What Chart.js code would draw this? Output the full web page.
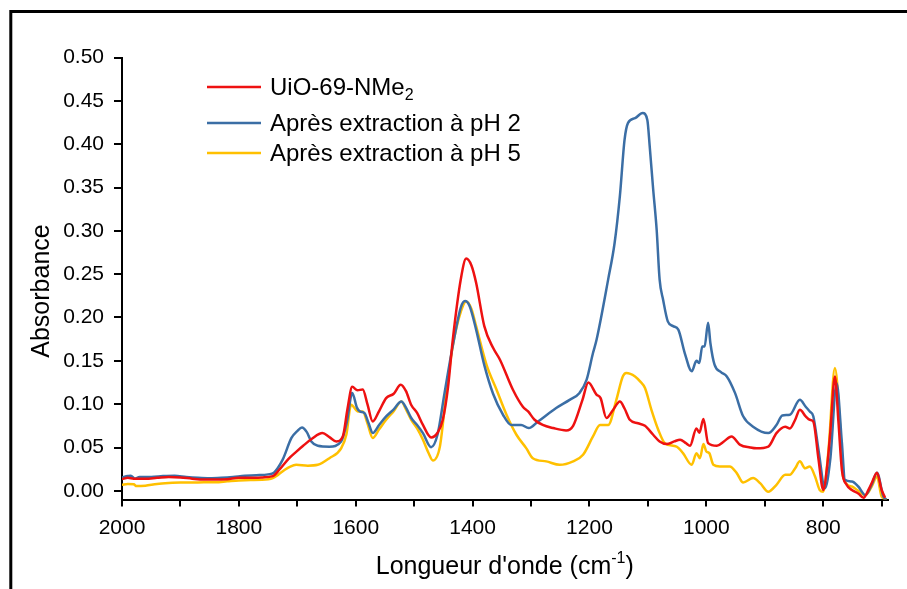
<!DOCTYPE html>
<html>
<head>
<meta charset="utf-8">
<script src="https://cdn.jsdelivr.net/npm/chart.js@4.4.0/dist/chart.umd.min.js"></script>
<style>
  html, body { margin: 0; padding: 0; background: #fff; }
  #wrap { width: 907px; height: 589px; }
</style>
</head>
<body>
<div id="wrap"><canvas id="mycanvas" width="907" height="589"></canvas></div>
<script>
// IR spectra: wavenumber (cm-1) and absorbance for each sample
var seriesNames = ['UiO-69-NMe', 'Après extraction à pH 2', 'Après extraction à pH 5'];
var seriesSubs = ['2', '', ''];
var seriesColors = ['#ee1111', '#3b6ea5', '#ffc000'];

var redWn = [2000,1990,1980,1960,1940,1920,1900,1880,1860,1840,1820,1800,1780,1760,1742,1730,1715,1702,1690,1675,1657,1645,1633,1622,1614,1606,1597,1588,1580,1571,1560,1548,1535,1523,1514,1505,1495,1485,1471,1460,1451,1442,1434,1420,1411,1402,1394,1380,1365,1353,1331,1314,1305,1294,1280,1262,1240,1228,1212,1202,1188,1181,1171,1160,1148,1140,1131,1117,1105,1091,1080,1068,1055,1045,1035,1028,1017,1012,1005,997,982,970,957,942,925,914,894,880,865,857,848,840,830,823,817,808,800,793,788,780,774,768,760,751,740,731,722,717,708,700,694];
var redAbs = [0.0135,0.015,0.014,0.014,0.015,0.016,0.0155,0.014,0.013,0.013,0.0135,0.015,0.015,0.0155,0.017,0.025,0.037,0.045,0.052,0.060,0.0666,0.062,0.057,0.063,0.095,0.120,0.116,0.117,0.100,0.080,0.092,0.107,0.112,0.1224,0.115,0.099,0.090,0.076,0.0616,0.067,0.082,0.120,0.174,0.245,0.268,0.260,0.240,0.190,0.165,0.151,0.1166,0.097,0.0916,0.082,0.076,0.0724,0.0697,0.075,0.105,0.125,0.111,0.107,0.084,0.093,0.103,0.095,0.082,0.078,0.075,0.0647,0.057,0.054,0.057,0.059,0.055,0.052,0.072,0.067,0.0828,0.055,0.052,0.057,0.0627,0.053,0.050,0.049,0.051,0.0666,0.074,0.072,0.082,0.0935,0.086,0.082,0.080,0.036,0.001,0.030,0.067,0.132,0.080,0.024,0.007,0.001,-0.003,-0.008,0.002,0.009,0.021,0.001,-0.008];

var blueWn = [2000,1990,1985,1978,1970,1950,1930,1910,1890,1870,1850,1830,1810,1790,1770,1750,1740,1725,1710,1700,1692,1684,1676,1665,1645,1625,1615,1606,1598,1593,1585,1578,1571,1560,1548,1535,1522,1514,1505,1495,1485,1471,1460,1448,1434,1420,1413,1405,1394,1380,1365,1348,1334,1317,1304,1288,1257,1234,1217,1205,1194,1188,1168,1157,1148,1140,1134,1122,1109,1101,1097,1091,1085,1080,1074,1066,1057,1048,1037,1025,1017,1012,1007,1003,997,993,986,975,965,951,937,920,894,880,870,857,840,830,823,817,808,797,788,777,768,763,751,740,728,717,708,697,692];
var blueAbs = [0.0154,0.017,0.0175,0.014,0.016,0.016,0.017,0.0175,0.016,0.015,0.0145,0.015,0.016,0.0175,0.018,0.019,0.021,0.036,0.061,0.069,0.073,0.068,0.057,0.052,0.051,0.057,0.080,0.113,0.096,0.0916,0.0897,0.078,0.0666,0.076,0.0858,0.094,0.103,0.096,0.084,0.076,0.0666,0.0504,0.065,0.113,0.167,0.212,0.219,0.213,0.186,0.145,0.112,0.0878,0.076,0.076,0.0724,0.080,0.0955,0.105,0.113,0.128,0.159,0.174,0.244,0.286,0.340,0.405,0.4246,0.430,0.436,0.428,0.398,0.348,0.301,0.244,0.2205,0.1955,0.190,0.186,0.159,0.138,0.150,0.1475,0.1666,0.1666,0.194,0.170,0.1455,0.137,0.132,0.113,0.086,0.074,0.0666,0.076,0.087,0.0878,0.105,0.097,0.0916,0.086,0.047,0.003,0.036,0.124,0.055,0.0127,0.0107,0.005,-0.005,0.007,0.021,-0.0066,-0.010];

var yellowWn = [2000,1990,1980,1975,1960,1940,1920,1900,1880,1860,1840,1820,1800,1780,1760,1742,1732,1722,1712,1702,1682,1665,1645,1625,1616,1608,1596,1588,1580,1571,1560,1548,1535,1522,1514,1505,1495,1485,1475,1468,1456,1445,1434,1420,1411,1402,1394,1376,1359,1342,1325,1308,1297,1274,1251,1228,1211,1194,1182,1168,1154,1143,1137,1122,1113,1105,1094,1082,1071,1051,1040,1025,1017,1011,1005,1000,995,988,977,960,948,937,920,908,894,880,865,857,848,840,831,823,814,806,800,791,780,771,766,751,740,728,717,708,700,691];
var yellowAbs = [0.007,0.008,0.0075,0.0055,0.006,0.008,0.009,0.0095,0.0095,0.010,0.010,0.011,0.012,0.0125,0.0127,0.0147,0.019,0.024,0.028,0.030,0.029,0.030,0.0377,0.049,0.065,0.0993,0.0916,0.0916,0.078,0.061,0.071,0.082,0.092,0.103,0.094,0.082,0.072,0.059,0.043,0.035,0.051,0.113,0.167,0.207,0.2186,0.210,0.190,0.145,0.1166,0.0878,0.0647,0.049,0.0377,0.034,0.030,0.034,0.0416,0.0627,0.076,0.076,0.105,0.132,0.136,0.132,0.126,0.1186,0.0935,0.070,0.055,0.051,0.0435,0.030,0.0435,0.0377,0.054,0.0454,0.0435,0.030,0.028,0.028,0.0204,0.0096,0.0147,0.0089,-0.001,0.007,0.0185,0.0185,0.026,0.034,0.026,0.028,0.0165,0.001,-0.001,0.047,0.1417,0.074,0.0165,0.005,0.000,-0.005,0.005,0.0165,-0.0066,-0.010];

var xTicks = [2000,1900,1800,1700,1600,1500,1400,1300,1200,1100,1000,900,800,700];
var yTicks = [0,0.05,0.10,0.15,0.20,0.25,0.30,0.35,0.40,0.45,0.50];

var FONT = '"Liberation Sans", Arial, sans-serif';

function toPoints(wn, ab) {
	var pts = [];
	for (var i = 0; i < wn.length; i++) pts.push({x: wn[i], y: ab[i]});
	return pts;
}

var spectra = [toPoints(redWn, redAbs), toPoints(blueWn, blueAbs), toPoints(yellowWn, yellowAbs)];

var datasets = [];
for (var i = 0; i < spectra.length; i++) {
	datasets.push({
		label: seriesNames[i] + seriesSubs[i],
		data: spectra[i],
		borderColor: seriesColors[i],
		borderWidth: 2.5,
		pointRadius: 0,
		fill: false,
		cubicInterpolationMode: 'monotone'
	});
}
// pH 5 sits under pH 2 which sits under the reference sample
datasets[0].order = 1;
datasets[1].order = 2;
datasets[2].order = 3;

// white page with the outer frame (top and left edges)
var framePlugin = {
	id: 'frame',
	beforeDraw: function(chart) {
		var c = chart.ctx;
		c.save();
		c.fillStyle = '#fff';
		c.fillRect(0, 0, chart.width, chart.height);
		c.strokeStyle = '#000';
		c.lineWidth = 3;
		c.beginPath();
		c.moveTo(10.8, chart.height);
		c.lineTo(10.8, 11.5);
		c.lineTo(chart.width, 11.5);
		c.stroke();
		c.restore();
	}
};

// legend with subscript support
var legendY = [87, 123, 153];
var legendPlugin = {
	id: 'spectraLegend',
	afterDraw: function(chart) {
		var c = chart.ctx;
		c.save();
		c.textBaseline = 'middle';
		c.textAlign = 'left';
		for (var i = 0; i < seriesNames.length; i++) {
			var y = legendY[i];
			c.strokeStyle = seriesColors[i];
			c.lineWidth = 2.5;
			c.beginPath();
			c.moveTo(207, y);
			c.lineTo(261, y);
			c.stroke();
			c.fillStyle = '#000';
			c.font = '24px ' + FONT;
			c.fillText(seriesNames[i], 270, y + 1);
			if (seriesSubs[i]) {
				var w = c.measureText(seriesNames[i]).width;
				c.font = '16px ' + FONT;
				c.fillText(seriesSubs[i], 270 + w, y + 9);
			}
		}
		c.restore();
	}
};

// axis titles (x title carries a superscript)
var titlesPlugin = {
	id: 'axisTitles',
	afterDraw: function(chart) {
		var c = chart.ctx;
		var area = chart.chartArea;
		c.save();
		c.fillStyle = '#000';
		c.textBaseline = 'middle';
		c.textAlign = 'left';
		var a = "Longueur d'onde (cm", sup = '-1', b = ')';
		c.font = '25px ' + FONT;
		var wa = c.measureText(a).width, wb = c.measureText(b).width;
		c.font = '16px ' + FONT;
		var ws = c.measureText(sup).width;
		var x0 = (area.left + area.right) / 2 - (wa + ws + wb) / 2;
		var y = 567;
		c.font = '25px ' + FONT;
		c.fillText(a, x0, y);
		c.font = '16px ' + FONT;
		c.fillText(sup, x0 + wa, y - 8);
		c.font = '25px ' + FONT;
		c.fillText(b, x0 + wa + ws, y);

		c.translate(42, 291);
		c.rotate(-Math.PI / 2);
		c.textAlign = 'center';
		c.fillText('Absorbance', 0, 0);
		c.restore();
	}
};

var ctx = document.getElementById('mycanvas');

var chart = new Chart(ctx, {
	type: 'line',
	data: { datasets: datasets },
	options: {
		responsive: false,
		animation: false,
		layout: { padding: { left: 0, top: 57.5, right: 19.5, bottom: 0 } },
		plugins: {
			legend: { display: false },
			tooltip: { enabled: false }
		},
		scales: {
			x: {
				type: 'linear',
				reverse: true,
				min: 690,
				max: 2000,
				afterBuildTicks: function(s) { s.ticks = xTicks.map(function(v) { return {value: v}; }); },
				afterFit: function(s) { s.height = 89.5; },
				ticks: {
					autoSkip: false,
					maxRotation: 0,
					color: '#000',
					padding: 9,
					font: { family: FONT, size: 21 },
					callback: function(v) { return v % 200 === 0 ? String(v) : ''; }
				},
				grid: { drawOnChartArea: false, drawTicks: true, tickLength: 7, color: '#000', lineWidth: 2 },
				border: { color: '#000', width: 2 }
			},
			y: {
				min: -0.01,
				max: 0.5,
				afterBuildTicks: function(s) { s.ticks = yTicks.map(function(v) { return {value: v}; }); },
				afterFit: function(s) { s.width = 122; },
				ticks: {
					color: '#000',
					padding: 10,
					font: { family: FONT, size: 21 },
					callback: function(v) { return v.toFixed(2); }
				},
				grid: { drawOnChartArea: false, drawTicks: true, tickLength: 8, color: '#000', lineWidth: 2 },
				border: { color: '#000', width: 2 }
			}
		}
	},
	plugins: [framePlugin, legendPlugin, titlesPlugin]
});
</script>
</body>
</html>
